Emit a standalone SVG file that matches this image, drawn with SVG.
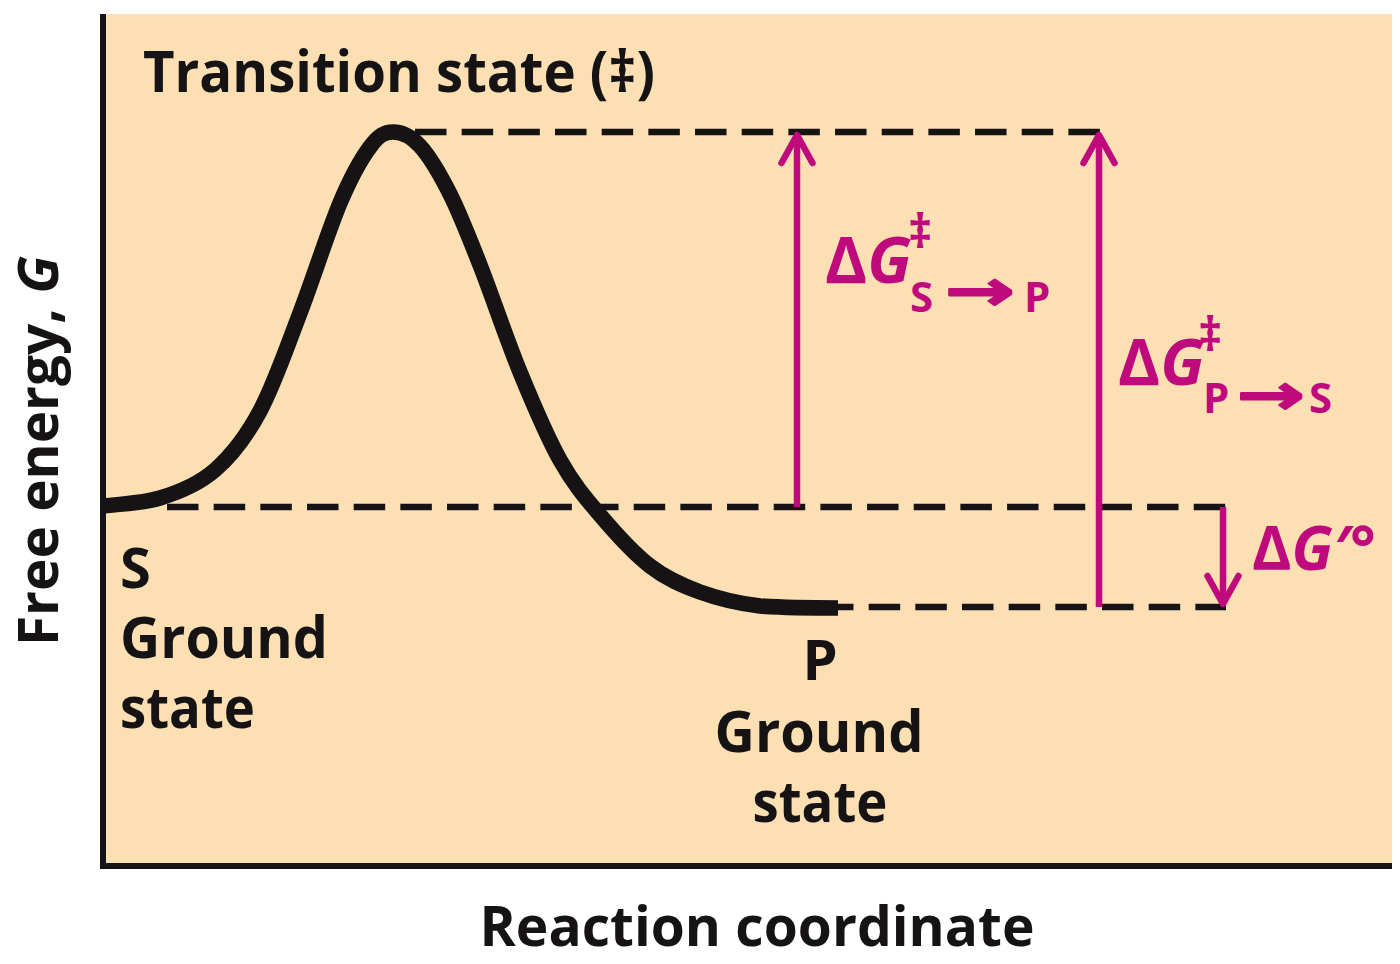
<svg xmlns="http://www.w3.org/2000/svg" width="1400" height="964" viewBox="0 0 1400 964">
<defs>
<style>
.lbl{font-family:"Open Sans","Noto Sans","DejaVu Sans",sans-serif;font-weight:700;fill:#161314}
.mg{font-family:"Open Sans","Noto Sans","DejaVu Sans",sans-serif;font-weight:700;fill:#BF0A7D}
.ar{font-family:"DejaVu Sans",sans-serif;font-weight:700;fill:#BF0A7D;stroke:#BF0A7D;stroke-width:2;stroke-linejoin:round}
.it{font-style:italic}
.dash{fill:none;stroke:#161314;stroke-width:6.5;stroke-dasharray:31.5 15.17}
.arr{fill:none;stroke:#BF0A7D;stroke-width:6.5;marker-end:url(#ah)}
.axis{fill:none;stroke:#161314;stroke-width:6}
.curve{fill:none;stroke:#161314;stroke-width:15.5;stroke-linecap:butt}
</style>
<marker id="ah" markerUnits="userSpaceOnUse" orient="auto" markerWidth="50" markerHeight="50" viewBox="-40 -25 50 50" refX="0" refY="0">
<path d="M-28,-15.5 L0,0 L-28,15.5" fill="none" stroke="#BF0A7D" stroke-width="6.5" stroke-linecap="round" stroke-linejoin="round"/>
</marker>
</defs>
<rect width="1400" height="964" fill="#FFFFFF"/>
<rect x="103" y="14" width="1289" height="852" fill="#FDDFB4"/>
<g id="axes">
<path class="axis" d="M103,14 V869"/>
<path class="axis" d="M100,866 H1392"/>
</g>
<g id="connectors">
<path class="dash" d="M415,132 H1100"/>
<path class="dash" d="M167,507 H1226"/>
<path class="dash" d="M822,607 H1226"/>
<line class="arr" x1="797" y1="507" x2="797" y2="135"/>
<line class="arr" x1="1099" y1="607" x2="1099" y2="135"/>
<line class="arr" x1="1223" y1="507" x2="1223" y2="604"/>
</g>
<g id="energy-curve">
<path class="curve" d="M103,506 C122,503.67 141.33,503.67 160,498 C178.67,492.33 198.33,484.5 215,470 C231.67,455.5 245.83,437.5 260,411 C274.17,384.5 286.67,347.83 300,313 C313.33,278.17 328.33,230.67 340,203 C351.67,175.33 361.17,158.83 370,147 C378.83,135.17 384.67,132 393,132 C401.33,132 410.5,135.67 420,146 C429.5,156.33 440,174.17 450,194 C460,213.83 468.33,235.33 480,265 C491.67,294.67 506.67,339.5 520,372 C533.33,404.5 546.67,436.17 560,460 C573.33,483.83 585,497.33 600,515 C615,532.67 633.33,553.17 650,566 C666.67,578.83 681.67,585.33 700,592 C718.33,598.67 737,603.33 760,606 C783,607.5 812,608 838,608"/>
</g>
<g id="node-transition">
<text class="lbl" x="143" y="92" font-size="57" textLength="512" lengthAdjust="spacingAndGlyphs">Transition state (‡)</text>
</g>
<g id="node-S">
<text class="lbl" x="120" y="588" font-size="56">S</text>
<text class="lbl" x="120" y="658" font-size="57" textLength="208" lengthAdjust="spacingAndGlyphs">Ground</text>
<text class="lbl" x="120" y="728" font-size="57" textLength="135" lengthAdjust="spacingAndGlyphs">state</text>
</g>
<g id="node-P">
<text class="lbl" x="820" y="680" font-size="56" text-anchor="middle">P</text>
<text class="lbl" x="819" y="752" font-size="57" text-anchor="middle" textLength="209" lengthAdjust="spacingAndGlyphs">Ground</text>
<text class="lbl" x="820" y="822" font-size="57" text-anchor="middle" textLength="135" lengthAdjust="spacingAndGlyphs">state</text>
</g>
<g id="label-dG-SP">
<text class="mg" x="825" y="283" font-size="64">Δ<tspan class="it">G</tspan></text>
<text class="mg" x="908" y="248" font-size="47">‡</text>
<text class="mg" x="910" y="312" font-size="42">S</text>
<text class="ar" x="945" y="310" font-size="56" textLength="70" lengthAdjust="spacingAndGlyphs">→</text>
<text class="mg" x="1024" y="312" font-size="42">P</text>
</g>
<g id="label-dG-PS">
<text class="mg" x="1118" y="385" font-size="64">Δ<tspan class="it">G</tspan></text>
<text class="mg" x="1198" y="351" font-size="47">‡</text>
<text class="mg" x="1203" y="413" font-size="42">P</text>
<text class="ar" x="1237" y="414" font-size="56" textLength="68" lengthAdjust="spacingAndGlyphs">→</text>
<text class="mg" x="1309" y="413" font-size="42">S</text>
</g>
<g id="label-dG0">
<text class="mg" x="1252" y="570" font-size="60">Δ<tspan class="it">G′</tspan>°</text>
</g>
<g id="axis-x-label">
<text class="lbl" x="757" y="946" font-size="56" text-anchor="middle" textLength="555" lengthAdjust="spacingAndGlyphs">Reaction coordinate</text>
</g>
<g id="axis-y-label">
<text class="lbl" transform="translate(58,451) rotate(-90)" x="0" y="0" font-size="56" text-anchor="middle" textLength="390" lengthAdjust="spacingAndGlyphs">Free energy, <tspan class="it">G</tspan></text>
</g>
</svg>
